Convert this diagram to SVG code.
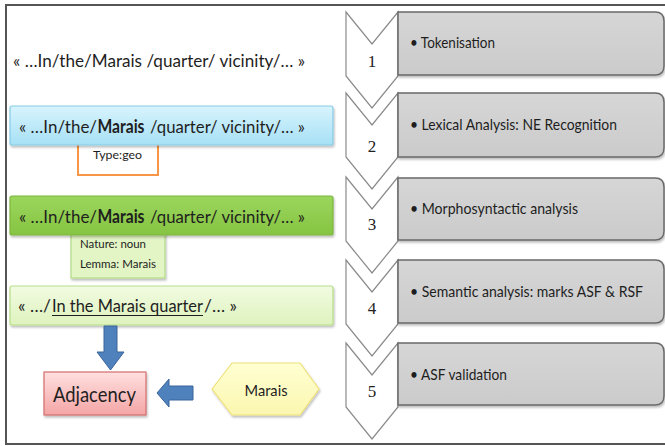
<svg xmlns="http://www.w3.org/2000/svg" width="665" height="446" viewBox="0 0 665 446">
<defs>
<style>
.t{font-family:Lato,"Open Sans","Liberation Sans",sans-serif;fill:#1e1e1e}
.big{font-size:18px}
.mid{font-size:16.5px}
.step{font-size:15px}
.num{font-family:"Liberation Serif",serif;font-size:17px;fill:#222;text-anchor:middle}
.small{font-size:11.5px}
.chev{fill:#fff;stroke:#8a8a8a;stroke-width:1.2}
.card{fill:url(#gGray);stroke:#6a6a6a;stroke-width:1.5}
.arr{fill:#4f81bd;stroke:#3a659a;stroke-width:1}
</style>
<linearGradient id="gGray" x1="0" y1="0" x2="0" y2="1"><stop offset="0" stop-color="#d6d6d6"/><stop offset="1" stop-color="#cbcbcb"/></linearGradient>
<linearGradient id="gBlue" x1="0" y1="0" x2="0" y2="1"><stop offset="0" stop-color="#d8f4fd"/><stop offset="1" stop-color="#a6e0f5"/></linearGradient>
<linearGradient id="gGreen" x1="0" y1="0" x2="0" y2="1"><stop offset="0" stop-color="#9ad65c"/><stop offset="1" stop-color="#86c443"/></linearGradient>
<linearGradient id="gLight" x1="0" y1="0" x2="0" y2="1"><stop offset="0" stop-color="#f2fbe2"/><stop offset="1" stop-color="#def3bd"/></linearGradient>
<linearGradient id="gPink" x1="0" y1="0" x2="0" y2="1"><stop offset="0" stop-color="#ffe0e0"/><stop offset="1" stop-color="#f4a5a5"/></linearGradient>
<linearGradient id="gYellow" x1="0" y1="0" x2="0" y2="1"><stop offset="0" stop-color="#ffffd2"/><stop offset="1" stop-color="#fbf7b0"/></linearGradient>
<filter id="sh" x="-10%" y="-20%" width="120%" height="150%"><feDropShadow dx="1" dy="2" stdDeviation="1.2" flood-color="#000" flood-opacity="0.25"/></filter>
</defs>
<rect x="0" y="0" width="665" height="446" fill="#fff"/>
<rect x="6" y="5" width="700" height="439" fill="none" stroke="#555" stroke-width="2"/>

<g id="step1">
<path class="chev" d="M346,12 L372,44 L398,12 V76 L372,108 L346,76 Z"/>
<text class="num" x="372" y="67">1</text>
<path class="card" filter="url(#sh)" d="M398,12 H655 Q664,12 664,21 V66 Q664,75 655,75 H398 Z"/>
<text class="t step" x="410" y="48" textLength="85" lengthAdjust="spacingAndGlyphs">• Tokenisation</text>
</g>
<g id="step2">
<path class="chev" d="M346,93 L372,125 L398,93 V157 L372,189 L346,157 Z"/>
<text class="num" x="372" y="152">2</text>
<path class="card" filter="url(#sh)" d="M398,93 H655 Q664,93 664,102 V148 Q664,157 655,157 H398 Z"/>
<text class="t step" x="410" y="130" textLength="207" lengthAdjust="spacingAndGlyphs">• Lexical Analysis: NE Recognition</text>
</g>
<g id="step3">
<path class="chev" d="M346,177 L372,209 L398,177 V241 L372,273 L346,241 Z"/>
<text class="num" x="372" y="230">3</text>
<path class="card" filter="url(#sh)" d="M398,178 H655 Q664,178 664,187 V231 Q664,240 655,240 H398 Z"/>
<text class="t step" x="410" y="214" textLength="168" lengthAdjust="spacingAndGlyphs">• Morphosyntactic analysis</text>
</g>
<g id="step4">
<path class="chev" d="M346,260 L372,292 L398,260 V324 L372,356 L346,324 Z"/>
<text class="num" x="372" y="314">4</text>
<path class="card" filter="url(#sh)" d="M398,260 H655 Q664,260 664,269 V314 Q664,323 655,323 H398 Z"/>
<text class="t step" x="410" y="297" textLength="233" lengthAdjust="spacingAndGlyphs">• Semantic analysis: marks ASF &amp; RSF</text>
</g>
<g id="step5">
<path class="chev" d="M346,343 L372,375 L398,343 V407 L372,439 L346,407 Z"/>
<text class="num" x="372" y="397">5</text>
<path class="card" filter="url(#sh)" d="M398,343 H655 Q664,343 664,352 V396 Q664,405 655,405 H398 Z"/>
<text class="t step" x="410" y="380" textLength="97" lengthAdjust="spacingAndGlyphs">• ASF validation</text>
</g>

<g id="raw">
<text class="t big" x="13" y="67" fill="#333" textLength="292" lengthAdjust="spacingAndGlyphs">« …In/the/Marais /quarter/ vicinity/… »</text>
</g>

<g id="typenote">
<rect x="78" y="130" width="80" height="45" fill="#fff" stroke="#f79646" stroke-width="2"/>
<text class="t small" x="93" y="159" fill="#444" textLength="49" lengthAdjust="spacingAndGlyphs">Type:geo</text>
</g>
<g id="ner">
<rect x="10" y="106" width="323" height="39" rx="2" fill="url(#gBlue)" stroke="#88cbe4" stroke-width="1.2" filter="url(#sh)"/>
<text class="t big" x="19" y="133" textLength="78" lengthAdjust="spacingAndGlyphs">« …In/the/</text>
<text class="t big" x="97.5" y="133" font-weight="bold" textLength="47" lengthAdjust="spacingAndGlyphs">Marais</text>
<text class="t big" x="150" y="133" textLength="155" lengthAdjust="spacingAndGlyphs">/quarter/ vicinity/… »</text>
</g>

<g id="morphnote">
<rect x="71" y="225" width="94" height="53" fill="#e3f5c5" stroke="#b2da86" stroke-width="1.2" filter="url(#sh)"/>
<text class="t small" x="80" y="248" textLength="66" lengthAdjust="spacingAndGlyphs">Nature: noun</text>
<text class="t small" x="80" y="268" textLength="76" lengthAdjust="spacingAndGlyphs">Lemma: Marais</text>
</g>
<g id="morph">
<rect x="10" y="196" width="323" height="39" rx="2" fill="url(#gGreen)" stroke="#7db63e" stroke-width="1.2" filter="url(#sh)"/>
<text class="t big" x="19" y="223" textLength="78" lengthAdjust="spacingAndGlyphs">« …In/the/</text>
<text class="t big" x="97.5" y="223" font-weight="bold" textLength="47" lengthAdjust="spacingAndGlyphs">Marais</text>
<text class="t big" x="150" y="223" textLength="155" lengthAdjust="spacingAndGlyphs">/quarter/ vicinity/… »</text>
</g>

<g id="semantic">
<rect x="10" y="286" width="323" height="39" rx="2" fill="url(#gLight)" stroke="#b6de88" stroke-width="1.2" filter="url(#sh)"/>
<text class="t mid" x="18" y="312" textLength="33" lengthAdjust="spacingAndGlyphs">« …/</text>
<text class="t mid" x="52" y="312" textLength="151" lengthAdjust="spacingAndGlyphs">In the Marais quarter</text>
<line x1="52" y1="315.5" x2="203" y2="315.5" stroke="#1e1e1e" stroke-width="1.2"/>
<text class="t mid" x="204" y="312" textLength="33" lengthAdjust="spacingAndGlyphs">/… »</text>
</g>

<g id="adjacency">
<rect x="44" y="372" width="102" height="43" fill="url(#gPink)" stroke="#d36d6d" stroke-width="1.2" filter="url(#sh)"/>
<text class="t" x="53" y="402" font-size="21" textLength="83" lengthAdjust="spacingAndGlyphs">Adjacency</text>
</g>

<g id="marais">
<polygon points="212,389 232,363 300,363 319,389 300,415 232,415" fill="url(#gYellow)" stroke="#eee07a" stroke-width="1.2" filter="url(#sh)"/>
<text class="t" x="266" y="396" font-size="16" text-anchor="middle" textLength="43" lengthAdjust="spacingAndGlyphs">Marais</text>
</g>

<g id="connectors">
<polygon class="arr" points="104,326 117,326 117,352 124,352 110.5,370 97,352 104,352"/>
<polygon class="arr" points="157,393 169,379 169,386 193,386 193,400 169,400 169,407"/>
</g>
</svg>
